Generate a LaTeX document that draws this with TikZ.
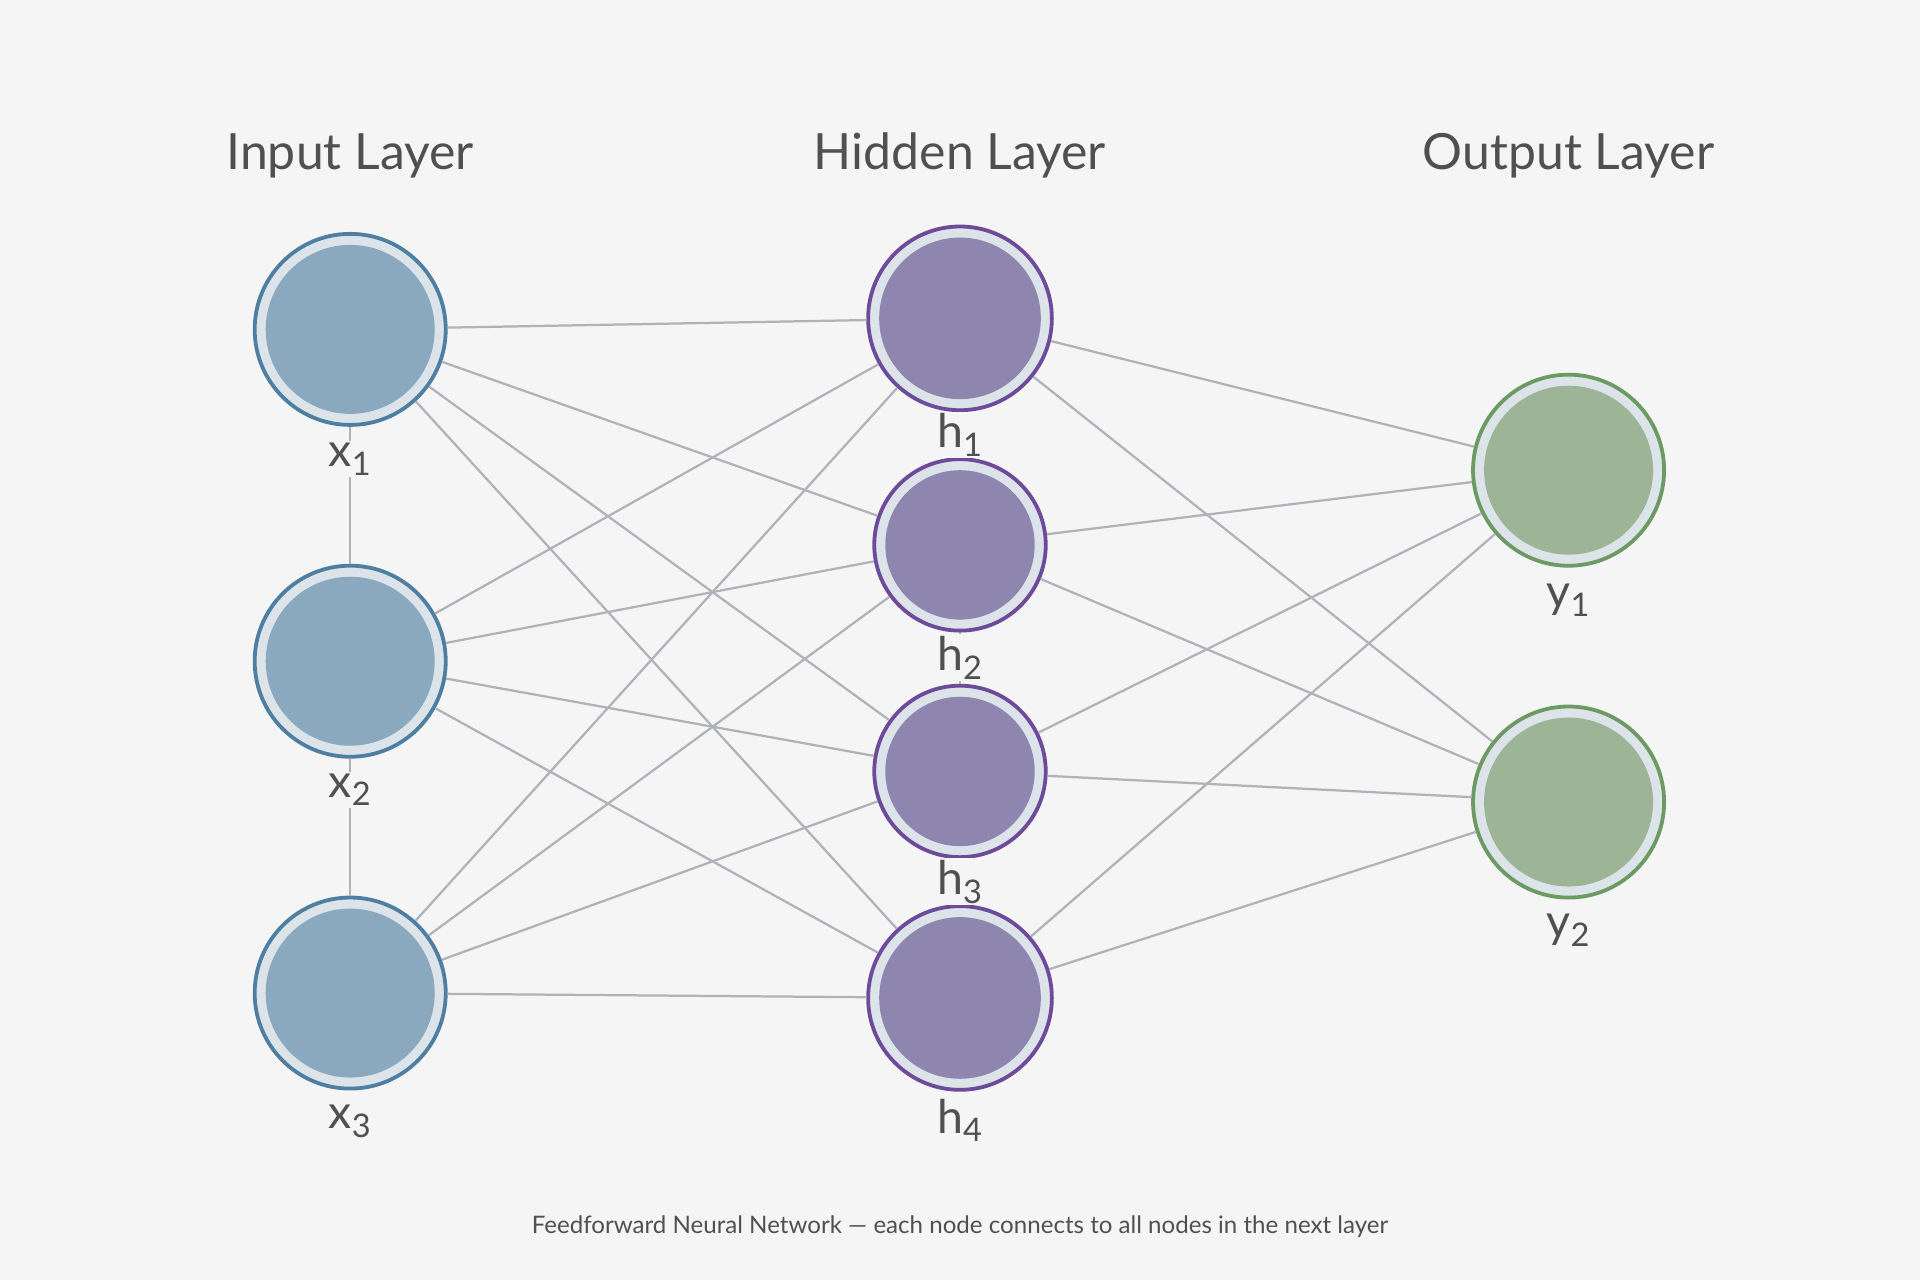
\documentclass[tikz,border=0pt]{standalone}
\usepackage{fontspec}
\setmainfont{Lato}
\begin{document}
\begin{tikzpicture}[x=0.025cm,y=-0.025cm,
  neuron/.style={circle,draw=#1,line width=2.2pt,inner sep=0pt},
  edge/.style={draw=edgec,line width=1.3pt},
  lab/.style={text=txt,font=\fontsize{27}{30}\selectfont,fill=bg,inner sep=1pt},
  title/.style={text=txt,font=\fontsize{29}{32}\selectfont}]
\definecolor{bg}{HTML}{F5F5F5}
\definecolor{edgec}{HTML}{B0B2BA}
\definecolor{txt}{HTML}{505050}
\definecolor{inF}{HTML}{8BA9BE}\definecolor{inD}{HTML}{4E7FA3}
\definecolor{hiF}{HTML}{8E86AE}\definecolor{hiD}{HTML}{6E4A9A}
\definecolor{ouF}{HTML}{9DB596}\definecolor{ouD}{HTML}{6B9A62}
\definecolor{ring}{HTML}{DCE4EA}
\fill[bg] (0,0) rectangle (1568,1045);
\useasboundingbox (0,0) rectangle (1568,1045);
\node[title] (t1) at (286,127) {Input Layer};
\node[title] (t2) at (784,127) {Hidden Layer};
\node[title] (t3) at (1281,127) {Output Layer};
% neurons (outer node)
\node[neuron=inD,minimum size=3.9cm,fill=ring] (x1) at (286,269) {};
\node[neuron=inD,minimum size=3.9cm,fill=ring] (x2) at (286,540) {};
\node[neuron=inD,minimum size=3.9cm,fill=ring] (x3) at (286,811) {};
\node[neuron=hiD,minimum size=3.75cm,fill=ring] (h1) at (784,260) {};
\node[neuron=hiD,minimum size=3.5cm,fill=ring] (h2) at (784,445) {};
\node[neuron=hiD,minimum size=3.5cm,fill=ring] (h3) at (784,630) {};
\node[neuron=hiD,minimum size=3.75cm,fill=ring] (h4) at (784,815) {};
\node[neuron=ouD,minimum size=3.9cm,fill=ring] (y1) at (1281,384) {};
\node[neuron=ouD,minimum size=3.9cm,fill=ring] (y2) at (1281,655) {};
% edges
\begin{scope}[on background layer/.style={}]
\foreach \a in {x1,x2,x3}{\foreach \b in {h1,h2,h3,h4}{\draw[edge] (\a) -- (\b);}}
\foreach \a in {h1,h2,h3,h4}{\foreach \b in {y1,y2}{\draw[edge] (\a) -- (\b);}}
\draw[edge] (x1) -- (x2); \draw[edge] (x2) -- (x3);
\draw[edge] (h1) -- (h2); \draw[edge] (h2) -- (h3); \draw[edge] (h3) -- (h4);
\end{scope}
% inner fills
\fill[inF] (x1) circle[radius=69]; \fill[inF] (x2) circle[radius=69]; \fill[inF] (x3) circle[radius=69];
\fill[hiF] (h1) circle[radius=66]; \fill[hiF] (h2) circle[radius=61];
\fill[hiF] (h3) circle[radius=61]; \fill[hiF] (h4) circle[radius=66];
\fill[ouF] (y1) circle[radius=69]; \fill[ouF] (y2) circle[radius=69];
% labels
\node[lab] (lx1) at (286,375) {x\textsubscript{1}};
\node[lab] (lx2) at (286,645) {x\textsubscript{2}};
\node[lab] (lx3) at (286,916) {x\textsubscript{3}};
\node[lab] (lh1) at (784,355) {h\textsubscript{1}};
\node[lab] (lh2) at (784,537) {h\textsubscript{2}};
\node[lab] (lh3) at (784,720) {h\textsubscript{3}};
\node[lab] (lh4) at (784,915) {h\textsubscript{4}};
\node[lab] (ly1) at (1281,490) {y\textsubscript{1}};
\node[lab] (ly2) at (1281,760) {y\textsubscript{2}};
\node[text=txt,font=\fontsize{14}{16}\selectfont] (cap) at (784,1002) {Feedforward Neural Network — each node connects to all nodes in the next layer};
\end{tikzpicture}
\end{document}
